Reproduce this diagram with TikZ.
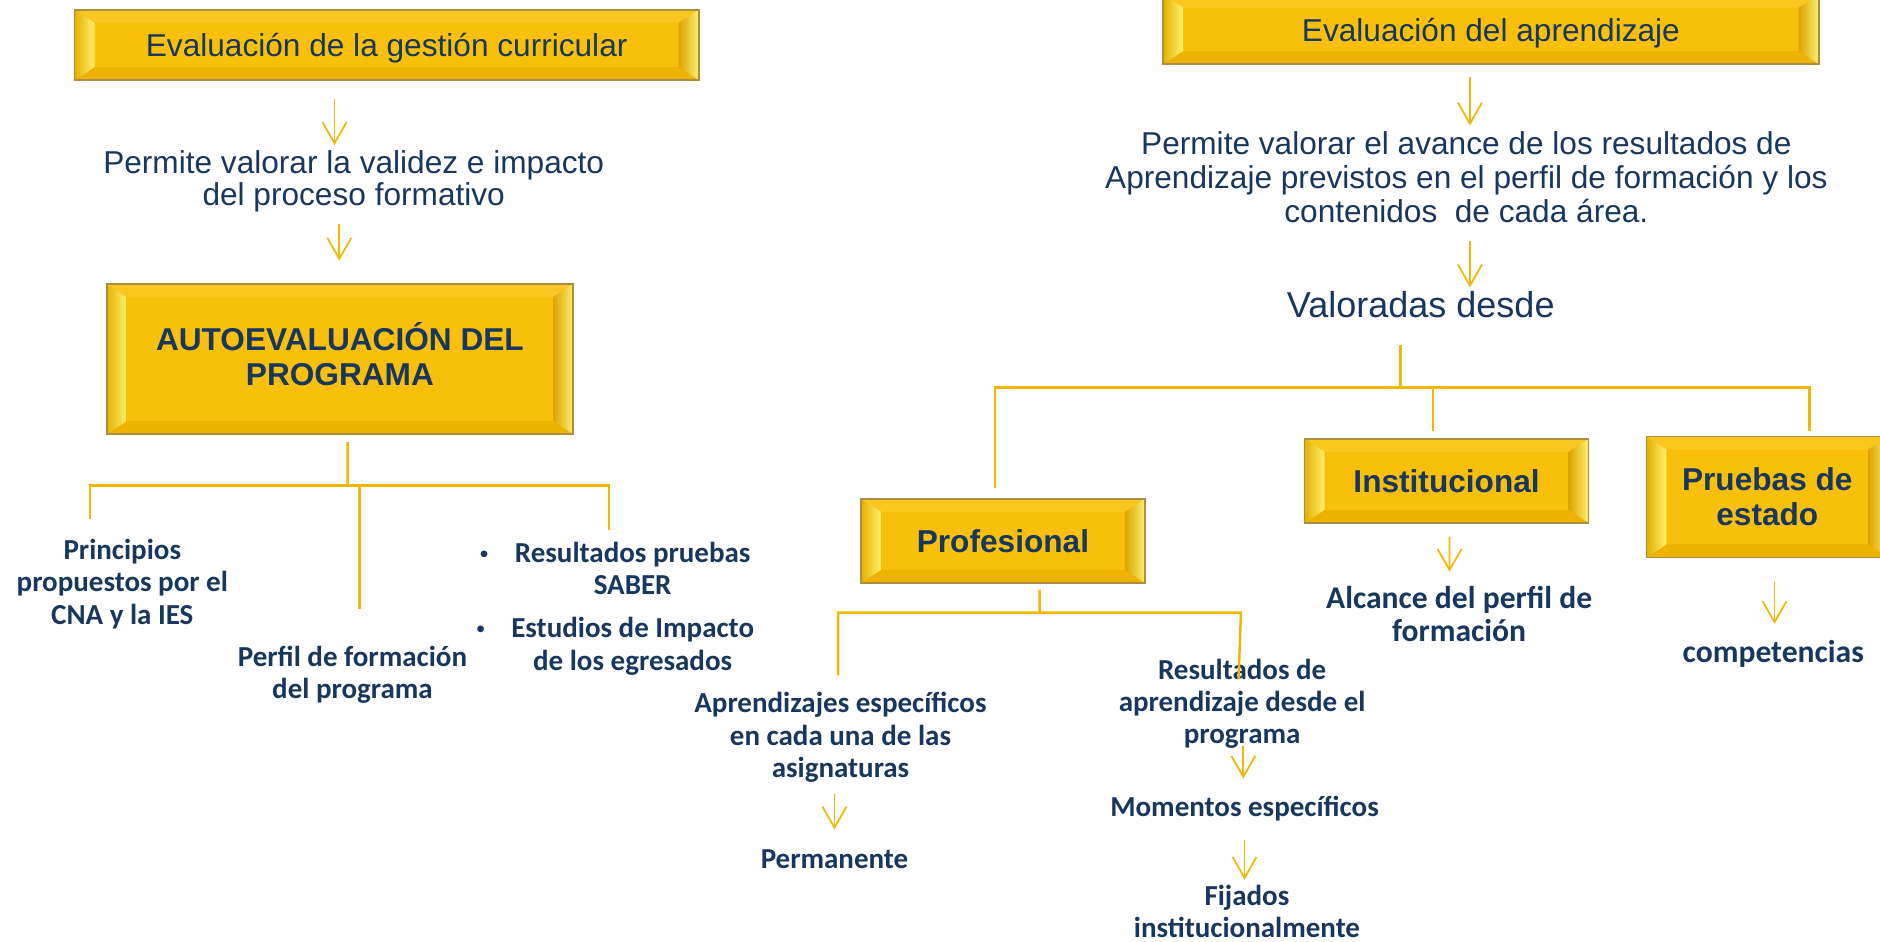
\documentclass[tikz,border=0pt]{standalone}
\usepackage{fontspec}
\setmainfont{Liberation Sans}
\newfontfamily\carlito{Carlito}
\usetikzlibrary{arrows.meta,calc}
\definecolor{navy}{HTML}{17375E}
\definecolor{gold}{HTML}{F2B705}
\definecolor{boxgold}{HTML}{F9C00B}
\definecolor{boxtop}{HTML}{FAC720}
\definecolor{boxbot}{HTML}{EEB200}
\definecolor{bevdark}{HTML}{E6B000}
\definecolor{bevlight}{HTML}{FFF06E}
\definecolor{bevinner}{HTML}{DCA300}
\definecolor{boxedge}{HTML}{A98F3F}
\newcommand\bevx{0.4cm}
\newcommand\bevy{0.26cm}
\newcommand\smallbullet{{\normalfont\fontsize{14}{14}\selectfont\textbullet}}

\begin{document}
\begin{tikzpicture}[
  x=0.02398cm, y=-0.02398cm,
  every node/.style={text=navy, inner sep=0pt},
  bevelbox/.style={draw=boxedge, line width=0.9pt, fill=boxgold, align=center, path picture={
    \coordinate (bnw) at (path picture bounding box.north west);
    \coordinate (bne) at (path picture bounding box.north east);
    \coordinate (bsw) at (path picture bounding box.south west);
    \coordinate (bse) at (path picture bounding box.south east);
    \fill[boxtop] (bnw) -- (bne) -- ([shift={(-\bevx,-\bevy)}]bne) -- ([shift={(\bevx,-\bevy)}]bnw) -- cycle;
    \fill[boxbot] (bsw) -- (bse) -- ([shift={(-\bevx,\bevy)}]bse) -- ([shift={(\bevx,\bevy)}]bsw) -- cycle;
    \shade[left color=bevdark, right color=bevlight] (bnw) -- (bsw) -- ([shift={(\bevx,\bevy)}]bsw) -- ([shift={(\bevx,-\bevy)}]bnw) -- cycle;
    \shade[left color=bevinner, right color=bevlight] (bne) -- (bse) -- ([shift={(-\bevx,\bevy)}]bse) -- ([shift={(-\bevx,-\bevy)}]bne) -- cycle;
  }},
  hbox/.style={bevelbox, text depth=0pt, font=\fontsize{18}{20}\selectfont},
  kbox/.style={bevelbox, font=\bfseries\fontsize{18}{19.5}\selectfont},
  ptxt/.style={align=center, font=\fontsize{18}{18.4}\selectfont},
  leaf/.style={align=center, font=\carlito\bfseries\fontsize{16.5}{18.4}\selectfont},
  bigleaf/.style={align=center, font=\carlito\bfseries\fontsize{18}{18.4}\selectfont},
  gline/.style={draw=gold, line width=1.4pt},
  garrow/.style={draw=gold, line width=1pt, -{Straight Barb[length=4.2mm,width=4.8mm]}}
]
  \useasboundingbox (0,0) rectangle (1568,785);

  \node[hbox, minimum width=12.49cm, minimum height=1.41cm] (gest) at (322.5,37.5) {Evaluación de la gestión curricular};
  \node[ptxt] (validez) at (295,151) {Permite valorar la validez e impacto\\del proceso formativo};
  \node[kbox, minimum width=9.33cm, minimum height=3cm] (auto) at (283.5,299.5) {\begin{tabular}{@{}c@{}}AUTOEVALUACIÓN DEL\\PROGRAMA\end{tabular}};
  \node[leaf] (cna) at (102,487) {Principios\\propuestos por el\\CNA y la IES};
  \node[leaf] (perfil) at (294,563) {Perfil de formación\\del programa};
  \node[leaf, anchor=west] (saber) at (400,477) {\begin{tabular}{@{}l@{\hspace{15pt}}c@{}}\smallbullet & Resultados pruebas\\ & SABER\end{tabular}};
  \node[leaf, anchor=west] (egres) at (397,540) {\begin{tabular}{@{}l@{\hspace{15pt}}c@{}}\smallbullet & Estudios de Impacto\\ & de los egresados\end{tabular}};

  \node[hbox, minimum width=13.12cm, minimum height=1.39cm] (apren) at (1243.5,24.5) {Evaluación del aprendizaje};
  \node[ptxt, font=\fontsize{18}{19.4}\selectfont] (avance) at (1223,148) {Permite valorar el avance de los resultados de\\Aprendizaje previstos en el perfil de formación y los\\contenidos\ \ de cada área.};
  \node[ptxt, font=\fontsize{20.5}{22}\selectfont] (desde) at (1185,254) {Valoradas desde};
  \node[kbox, minimum width=5.68cm, minimum height=1.68cm] (prof) at (836.5,451) {Profesional};
  \node[kbox, minimum width=5.68cm, minimum height=1.68cm] (inst) at (1206.5,401) {Institucional};
  \node[kbox, minimum width=4.84cm, minimum height=2.42cm, font=\bfseries\fontsize{18}{19.7}\selectfont] (estado) at (1474,414.5) {Pruebas de\\estado};
  \node[bigleaf] (alcance) at (1217,512) {Alcance del perfil de\\formación};
  \node[bigleaf] (compet) at (1479,545) {competencias};
  \node[leaf] (asig) at (701,615) {Aprendizajes específicos\\en cada una de las\\asignaturas};
  \node[leaf] (perman) at (696,717) {Permanente};
  \node[leaf] (progr) at (1036,587) {Resultados de\\aprendizaje desde el\\programa};
  \node[leaf] (momen) at (1038,674) {Momentos específicos};
  \node[leaf] (fijad) at (1040,760) {Fijados\\institucionalmente};

  \coordinate (autoJ) at (290,405);
  \coordinate (autoL) at (75,405);
  \coordinate (autoM) at (300,405);
  \coordinate (autoR) at (508,405);
  \coordinate (desdeJ) at (1168,323);
  \coordinate (desdeR) at (1509,323);
  \coordinate (profJ) at (867,511);
  \coordinate (profR) at (1035,511);

  \draw[garrow] ($(gest.south)+(-43.5,15)$) -- ($(validez.north)+(-16,-4)$);
  \draw[garrow] ($(validez.south)+(-12,10)$) -- ($(auto.north)+(-0.5,-19)$);
  \draw[gline] ($(auto.south)+(6.5,6)$) -- (autoJ);
  \draw[gline] ($(autoL)+(0,28)$) -- (autoL) -- (autoR) -- ++(0,37);
  \draw[gline] (autoM) -- ++(0,103);

  \draw[garrow] ($(apren.south)+(-17.5,10)$) -- ($(avance.north)+(3,-5)$);
  \draw[garrow] ($(avance.south)+(3,15)$) -- ($(desde.north)+(41,-3)$);
  \draw[gline] ($(desde.south)+(-17,22)$) -- (desdeJ);
  \draw[gline] ($(prof.north)+(-6.5,-8)$) |- (desdeR) -- ($(estado.north)+(35,-4)$);
  \draw[gline] ($(inst.north)+(-11.5,-6)$) -- ($(inst.north)+(-11.5,-43)$);
  \draw[garrow] ($(inst.south)+(2.5,11)$) -- ($(alcance.north)+(-8,-12)$);
  \draw[garrow] ($(estado.south)+(6,19)$) -- ($(compet.north)+(1,-13)$);

  \draw[gline] ($(prof.south)+(30.5,5)$) -- (profJ);
  \draw[gline] ($(asig.north)+(-2,-14)$) |- (profR) -- ($(progr.north)+(-3,17)$);
  \draw[garrow] ($(asig.south)+(-5,9)$) -- ($(perman.north)+(0,-17)$);
  \draw[garrow] ($(progr.south)+(1,-3)$) -- ($(momen.north)+(-1,-14)$);
  \draw[garrow] ($(momen.south)+(0,16)$) -- ($(fijad.north)+(-2,-4)$);
\end{tikzpicture}
\end{document}
